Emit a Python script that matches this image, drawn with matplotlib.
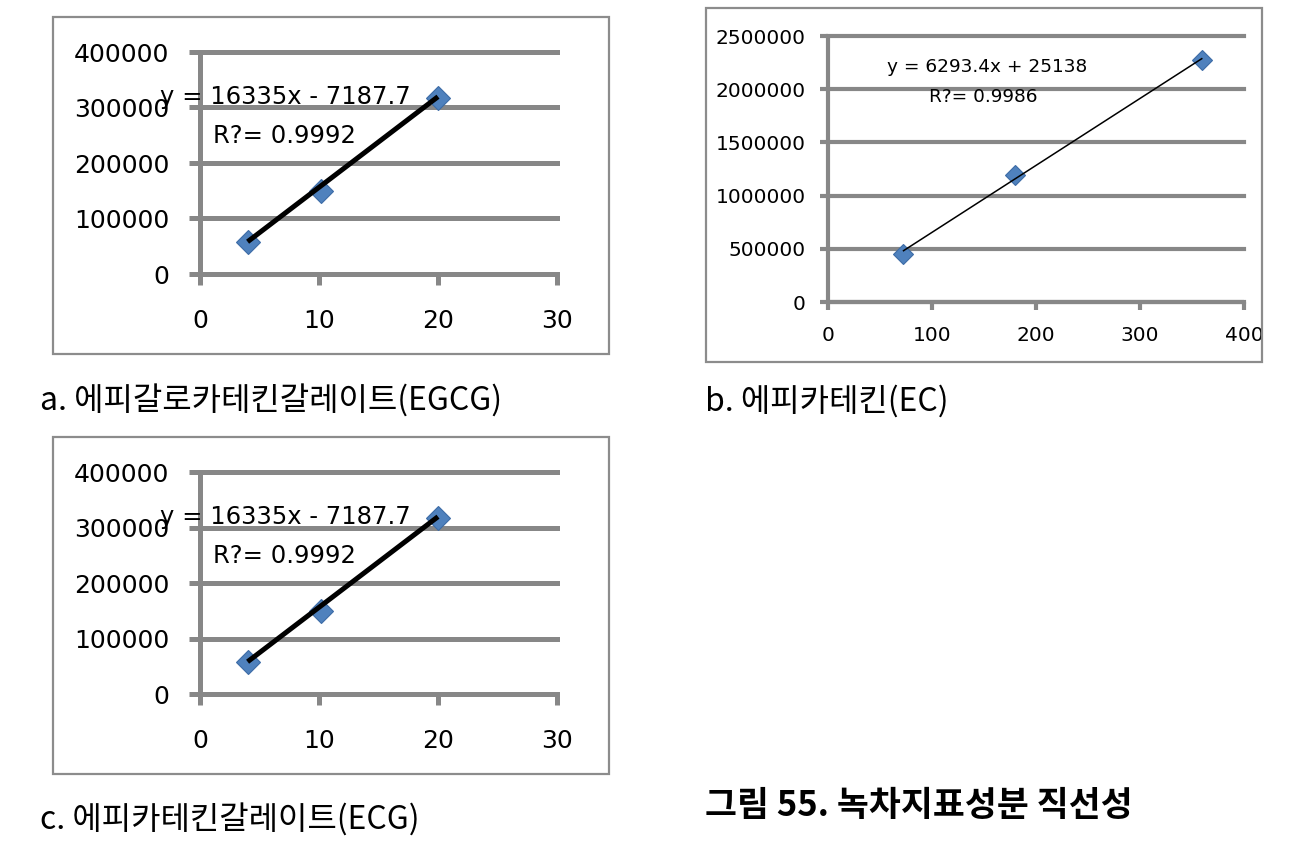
import matplotlib
matplotlib.use('Agg')
import matplotlib.pyplot as plt
from matplotlib.patches import Rectangle
import numpy as np

plt.rcParams['font.family'] = ['DejaVu Sans']

# ---------------- data ----------------
egcg_x = [4, 10.2, 20]
egcg_y = [58000, 150000, 318000]
egcg_slope, egcg_intercept = 16335, -7187.7
egcg_eq = "y = 16335x - 7187.7"
egcg_r2 = "R?= 0.9992"

ec_x = [72, 180, 360]
ec_y = [455000, 1195000, 2270000]
ec_slope, ec_intercept = 6293.4, 25138
ec_eq = "y = 6293.4x + 25138"
ec_r2 = "R?= 0.9986"

ecg_x = [4, 10.2, 20]
ecg_y = [58000, 150000, 318000]
ecg_slope, ecg_intercept = 16335, -7187.7
ecg_eq = "y = 16335x - 7187.7"
ecg_r2 = "R?= 0.9992"

small_xticks = [0, 10, 20, 30]
small_yticks = [0, 100000, 200000, 300000, 400000]
ec_xticks = [0, 100, 200, 300, 400]
ec_yticks = [0, 500000, 1000000, 1500000, 2000000, 2500000]

caption_a = "a. 에피갈로카테킨갈레이트(EGCG)"
caption_b = "b. 에피카테킨(EC)"
caption_c = "c. 에피카테킨갈레이트(ECG)"
fig_title = "그림 55. 녹차지표성분 직선성"

# ---------------- drawing ----------------
W, H = 1310, 847
fig = plt.figure(figsize=(W / 100, H / 100), dpi=100)
fig.patch.set_facecolor('white')

GRAY = '#878787'
BLUE = '#4F81BD'
KFONT = ['Noto Sans CJK KR', 'DejaVu Sans']


def px_rect(x0, y0, x1, y1):
    return [x0 / W, 1 - y1 / H, (x1 - x0) / W, (y1 - y0) / H]


def frame(x0, y0, x1, y1):
    fig.patches.append(Rectangle((x0 / W, 1 - y1 / H), (x1 - x0) / W, (y1 - y0) / H,
                                 transform=fig.transFigure, fill=False,
                                 edgecolor='#8c8c8c', linewidth=1.6))


def panel(rect, xs, ys, slope, intercept, xticks, yticks, eq, r2, eqpos, r2pos,
          fs, eqfs, glw, tlw, ms, tick_len, ypad, xpad):
    ax = fig.add_axes(rect)
    ax.set_facecolor('none')
    ax.set_xlim(xticks[0], xticks[-1])
    ax.set_ylim(yticks[0], yticks[-1])
    ax.set_xticks(xticks)
    ax.set_yticks(yticks)
    ax.set_xticklabels([str(v) for v in xticks], fontsize=fs)
    ax.set_yticklabels([str(v) for v in yticks], fontsize=fs)
    for s in ['top', 'right']:
        ax.spines[s].set_visible(False)
    for s in ['left', 'bottom']:
        ax.spines[s].set_color(GRAY)
        ax.spines[s].set_linewidth(glw)
        ax.spines[s].set_capstyle('butt')
    ax.tick_params(axis='both', direction='out', color=GRAY, width=glw,
                   length=tick_len, labelcolor='black')
    ax.tick_params(axis='y', pad=ypad)
    ax.tick_params(axis='x', pad=xpad)
    ax.grid(axis='y', color=GRAY, linewidth=glw)
    ax.set_axisbelow(True)
    for ln in ax.get_ygridlines():
        ln.set_clip_on(False)
    ax.plot(xs, ys, linestyle='none', marker='D', markersize=ms,
            markerfacecolor=BLUE, markeredgecolor='#3d6ca6', markeredgewidth=0.8,
            zorder=3, clip_on=False)
    tx = np.array([xs[0], xs[-1]])
    ax.plot(tx, slope * tx + intercept, color='black', linewidth=tlw, zorder=4,
            solid_capstyle='butt', clip_on=False)
    fig.text(eqpos[0] / W, 1 - eqpos[1] / H, eq, fontsize=eqfs, ha='left', va='center', zorder=5)
    fig.text(r2pos[0] / W, 1 - r2pos[1] / H, r2, fontsize=eqfs, ha='left', va='center', zorder=5)
    return ax


# frames
frame(53, 17, 609, 354)
frame(706, 8, 1262, 362)
frame(53, 437, 609, 774)

# panel a
panel(px_rect(200, 52, 557, 274), egcg_x, egcg_y, egcg_slope, egcg_intercept,
      small_xticks, small_yticks, egcg_eq, egcg_r2, (160, 97), (213, 136),
      fs=18, eqfs=17.5, glw=3.6, tlw=3.6, ms=12, tick_len=8, ypad=14, xpad=17)

# panel b
panel(px_rect(828, 36, 1244, 302), ec_x, ec_y, ec_slope, ec_intercept,
      ec_xticks, ec_yticks, ec_eq, ec_r2, (887, 67), (929, 97),
      fs=14.5, eqfs=13.3, glw=3.0, tlw=1.1, ms=10, tick_len=6, ypad=10, xpad=11)

# panel c
panel(px_rect(200, 472, 557, 694), ecg_x, ecg_y, ecg_slope, ecg_intercept,
      small_xticks, small_yticks, ecg_eq, ecg_r2, (160, 517), (213, 556),
      fs=18, eqfs=17.5, glw=3.6, tlw=3.6, ms=12, tick_len=8, ypad=14, xpad=17)

# captions
fig.text(40 / W, 1 - 401 / H, caption_a, fontsize=23, family=KFONT, ha='left', va='center')
fig.text(705 / W, 1 - 401 / H, caption_b, fontsize=23, family=KFONT, ha='left', va='center')
fig.text(40 / W, 1 - 820 / H, caption_c, fontsize=23, family=KFONT, ha='left', va='center')
fig.text(705 / W, 1 - 805 / H, fig_title, fontsize=25, family=KFONT, fontweight='bold',
         ha='left', va='center')

fig.savefig('out.png', dpi=100, facecolor='white')
